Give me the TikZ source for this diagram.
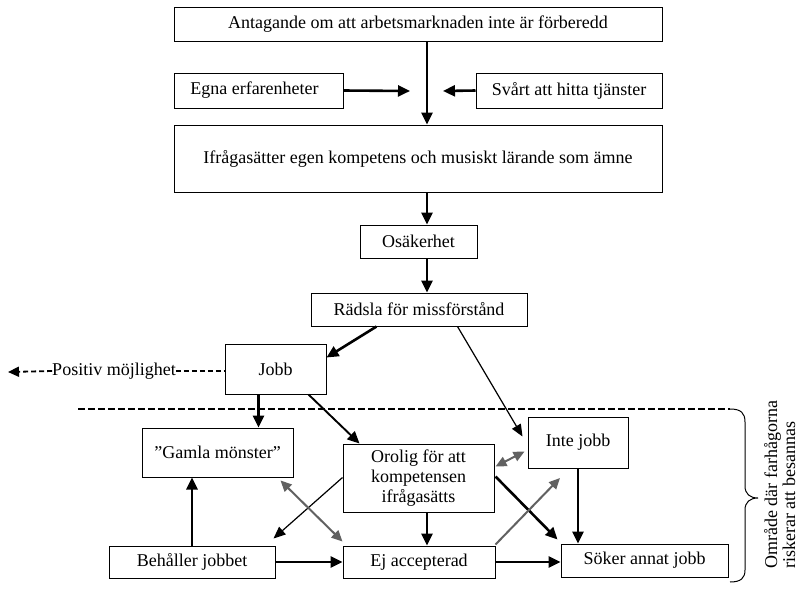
\documentclass[tikz,border=0pt]{standalone}
\usepackage{fontspec}
\setmainfont{Liberation Serif}
\usetikzlibrary{arrows.meta,calc}
\begin{document}
\begin{tikzpicture}[x=1pt,y=-1pt,
  box/.style={draw, line width=1pt, inner sep=0pt, font=\fontsize{18}{20}\selectfont, align=center},
  thk/.style={line width=2.6pt, -{Triangle[length=12pt,width=11pt]}},
  med/.style={line width=1.9pt, -{Triangle[length=12pt,width=11pt]}},
  thn/.style={line width=1.2pt, -{Triangle[length=12pt,width=10pt]}},
  gry/.style={line width=2pt, draw=black!62, fill=black!62, {Triangle[length=11pt,width=10pt]}-{Triangle[length=11pt,width=10pt]}},
  gryone/.style={line width=2pt, draw=black!62, fill=black!62, -{Triangle[length=11pt,width=10pt]}},
  sep/.style={line width=1.8pt, dash pattern=on 7pt off 3pt},
  posdash/.style={line width=1.8pt, dash pattern=on 5pt off 3pt},
]
\useasboundingbox (0,0) rectangle (806,590);
\fill[white] (0,0) rectangle (806,590);

\node[box, minimum width=488pt, minimum height=34pt] (ant) at (418,24) {Antagande om att arbetsmarknaden inte är förberedd};
\node[box, minimum width=169pt, minimum height=35pt] (egna) at (258.5,90.5) {\hspace*{-8pt}Egna erfarenheter};
\node[box, minimum width=186pt, minimum height=35pt] (svart) at (569,90.5) {Svårt att hitta tjänster};
\node[box, minimum width=488pt, minimum height=67pt] (ifr) at (418,158.5) {Ifrågasätter egen kompetens och musiskt lärande som ämne};
\node[box, minimum width=117pt, minimum height=33pt] (osak) at (418.5,241.5) {Osäkerhet};
\node[box, minimum width=216pt, minimum height=33pt] (rad) at (419,309.5) {Rädsla för missförstånd};
\node[box, minimum width=101pt, minimum height=50pt] (jobb) at (275.5,369) {Jobb};
\node[box, minimum width=151pt, minimum height=49pt] (gamla) at (217.5,452.5) {”Gamla mönster”};
\node[box, minimum width=151pt, minimum height=68pt] (orolig) at (418.5,478) {Orolig för att\\kompetensen\\ifrågasätts};
\node[box, minimum width=100pt, minimum height=51pt] (inte) at (578,442.5) {Inte jobb};
\node[box, minimum width=166pt, minimum height=32pt] (beh) at (192,562) {Behåller jobbet};
\node[box, minimum width=152pt, minimum height=32pt] (ej) at (419,562) {Ej accepterad};
\node[box, minimum width=167pt, minimum height=33pt] (soker) at (644.5,560.5) {Söker annat jobb};
\node[font=\fontsize{18}{20}\selectfont, inner sep=0pt] (pos) at (114,371) {Positiv möjlighet};
\node[rotate=90, align=left, anchor=north west, inner sep=0pt, font=\fontsize{18}{18}\selectfont] (omr) at (764,569) {Område där farhågorna\\riskerar att besannas};

\coordinate (col) at (427,0);
\coordinate (mL) at (410,91);
\coordinate (mR) at (443,91);
\coordinate (posend) at (8,372);
\coordinate (ejup) at (560,478);

% separator and brace
\draw[sep] (78,409) -- (730,409);
\draw[line width=1pt] (730,409) .. controls (741,409) and (745,413) .. (745,422)
  -- (745,486) .. controls (745,494) and (750,498) .. (758,498)
  .. controls (750,498) and (745,502) .. (745,510)
  -- (745,570) .. controls (745,578) and (741,582) .. (730,582);

% top chain
\draw[thk] (ant.south -| col) -- (ifr.north -| col);
\draw[thk] (egna.east) -- (mL);
\draw[thk] (svart.west) -- (mR);
\draw[thk] (ifr.south -| col) -- (osak.north -| col);
\draw[thk] (osak.south -| col) -- (rad.north -| col);
\draw[thk] ($(rad.south west)+(66,0)$) -- ($(jobb.north east)+(0,14)$);
\draw[thn] ($(rad.south west)+(147,0)$) -- ($(inte.north west)+(-5,20)$);

% Jobb
\draw[posdash] (pos.east) -- (pos.east -| jobb.west);
\draw[posdash, -{Triangle[length=11pt,width=10pt]}] (pos.west) -- (posend);
\draw[thk] ($(jobb.south west)+(34,0)$) -- ($(gamla.north west)+(117,0)$);
\draw[med] ($(jobb.south east)+(-18,0)$) -- ($(orolig.north west)+(17,0)$);

% lower part
\draw[gry] ($(orolig.north east)+(1,23)$) -- ($(inte.north west)+(-3,35)$);
\draw[thk] ($(orolig.north east)+(1,33)$) -- ($(soker.north west)+(-3,-4)$);
\draw[thk] (orolig.south -| col) -- (ej.north -| col);
\draw[thn] ($(orolig.north west)+(0,34)$) -- ($(beh.north east)+(-2,-7)$);
\draw[gry] ($(gamla.south east)+(-13,3)$) -- ($(ej.north west)+(0,-4)$);
\draw[gryone] ($(ej.north east)+(0,-1)$) -- (ejup);
\draw[thk] (beh.north) -- (gamla.south -| beh.north);
\draw[thk] (beh.east) -- (ej.west);
\draw[thk] (ej.east) -- (ej.east -| soker.west);
\draw[thk] (inte.south) -- (soker.north -| inte.south);
\end{tikzpicture}
\end{document}
